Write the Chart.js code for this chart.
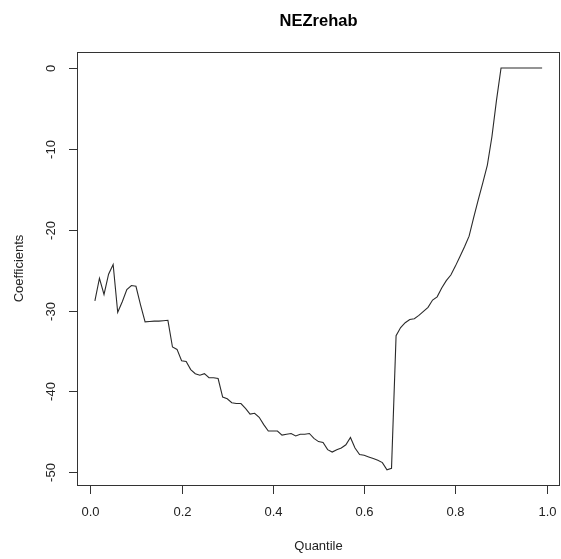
<!DOCTYPE html>
<html>
<head>
<meta charset="utf-8">
<script src="https://cdn.jsdelivr.net/npm/chart.js@4"></script>
<style>
  html, body { margin: 0; padding: 0; background: #fff; }
  #wrap { width: 561px; height: 559px; }
</style>
</head>
<body>
<div id="wrap"><canvas id="quantChart" width="561" height="559"></canvas></div>
<script>
// quantiles 0.01 ... 0.99
const quantiles = [
  0.01, 0.02, 0.03, 0.04, 0.05, 0.06, 0.07, 0.08, 0.09, 0.10,
  0.11, 0.12, 0.13, 0.14, 0.15, 0.16, 0.17, 0.18, 0.19, 0.20,
  0.21, 0.22, 0.23, 0.24, 0.25, 0.26, 0.27, 0.28, 0.29, 0.30,
  0.31, 0.32, 0.33, 0.34, 0.35, 0.36, 0.37, 0.38, 0.39, 0.40,
  0.41, 0.42, 0.43, 0.44, 0.45, 0.46, 0.47, 0.48, 0.49, 0.50,
  0.51, 0.52, 0.53, 0.54, 0.55, 0.56, 0.57, 0.58, 0.59, 0.60,
  0.61, 0.62, 0.63, 0.64, 0.65, 0.66, 0.67, 0.68, 0.69, 0.70,
  0.71, 0.72, 0.73, 0.74, 0.75, 0.76, 0.77, 0.78, 0.79, 0.80,
  0.81, 0.82, 0.83, 0.84, 0.85, 0.86, 0.87, 0.88, 0.89, 0.90,
  0.91, 0.92, 0.93, 0.94, 0.95, 0.96, 0.97, 0.98, 0.99
];

const coefficients = [
  -28.8, -26.0, -28.0, -25.5, -24.3, -30.2, -28.9, -27.4, -26.9, -27.0,
  -29.3, -31.4, -31.35, -31.3, -31.3, -31.25, -31.2, -34.5, -34.8, -36.2,
  -36.3, -37.3, -37.8, -38.0, -37.8, -38.3, -38.3, -38.4, -40.7, -40.9,
  -41.4, -41.5, -41.5, -42.1, -42.8, -42.7, -43.2, -44.1, -44.9, -44.9,
  -44.9, -45.4, -45.3, -45.2, -45.5, -45.3, -45.3, -45.2, -45.8, -46.2,
  -46.3, -47.2, -47.5, -47.2, -47.0, -46.6, -45.7, -47.0, -47.8, -47.9,
  -48.1, -48.3, -48.5, -48.8, -49.7, -49.5, -33.1, -32.1, -31.5, -31.1,
  -31.0, -30.6, -30.1, -29.6, -28.7, -28.3, -27.2, -26.3, -25.6, -24.5,
  -23.3, -22.1, -20.8, -18.5, -16.3, -14.2, -12.0, -8.5, -4.0, 0,
  0, 0, 0, 0, 0, 0, 0, 0, 0
];

const xTicks = [0, 0.2, 0.4, 0.6, 0.8, 1.0];
const xTickLabels = ['0.0', '0.2', '0.4', '0.6', '0.8', '1.0'];
const yTicks = [0, -10, -20, -30, -40, -50];
const yTickLabels = ['0', '-10', '-20', '-30', '-40', '-50'];

const chartTitle = 'NEZrehab';
const xTitle = 'Quantile';
const yTitle = 'Coefficients';

const FONT = '"Liberation Sans", Arial, Helvetica, sans-serif';

// R-style frame: box, outward ticks, rotated y labels
const rFrame = {
  id: 'rFrame',
  afterDraw(chart) {
    const ctx = chart.ctx;
    const a = chart.chartArea;
    const xs = chart.scales.x;
    const ys = chart.scales.y;
    const tick = 8.5;

    ctx.save();
    ctx.strokeStyle = '#333';
    ctx.lineWidth = 1;
    ctx.strokeRect(Math.round(a.left) + 0.5, Math.round(a.top) + 0.5,
      Math.round(a.right - a.left) - 1, Math.round(a.bottom - a.top));

    ctx.fillStyle = '#222';
    ctx.font = '13px ' + FONT;

    // x axis
    ctx.textAlign = 'center';
    ctx.textBaseline = 'middle';
    const yb = Math.round(a.bottom) + 0.5;
    ctx.beginPath();
    ctx.moveTo(xs.getPixelForValue(xTicks[0]), yb);
    ctx.lineTo(xs.getPixelForValue(xTicks[xTicks.length - 1]), yb);
    xTicks.forEach((v, i) => {
      const px = Math.round(xs.getPixelForValue(v)) + 0.5;
      ctx.moveTo(px, yb);
      ctx.lineTo(px, yb + tick);
      ctx.fillText(xTickLabels[i], px, 512);
    });
    ctx.stroke();

    // y axis
    const xl = Math.round(a.left) + 0.5;
    ctx.beginPath();
    ctx.moveTo(xl, ys.getPixelForValue(yTicks[0]));
    ctx.lineTo(xl, ys.getPixelForValue(yTicks[yTicks.length - 1]));
    yTicks.forEach((v, i) => {
      const py = Math.round(ys.getPixelForValue(v)) + 0.5;
      ctx.moveTo(xl, py);
      ctx.lineTo(xl - tick, py);
      ctx.save();
      ctx.translate(51, py);
      ctx.rotate(-Math.PI / 2);
      ctx.fillText(yTickLabels[i], 0, 0);
      ctx.restore();
    });
    ctx.stroke();

    // axis titles
    const cx = (a.left + a.right) / 2;
    const cy = (a.top + a.bottom) / 2;
    ctx.fillText(xTitle, cx, 546);
    ctx.save();
    ctx.translate(19, cy);
    ctx.rotate(-Math.PI / 2);
    ctx.fillText(yTitle, 0, 0);
    ctx.restore();

    // main title
    ctx.font = 'bold 16.5px ' + FONT;
    ctx.fillStyle = '#000';
    ctx.fillText(chartTitle, cx, 21);
    ctx.restore();
  }
};

document.addEventListener('DOMContentLoaded', () => {
  const ctx = document.getElementById('quantChart').getContext('2d');
  new Chart(ctx, {
    type: 'line',
    data: {
      datasets: [{
        label: chartTitle,
        data: quantiles.map((q, i) => ({ x: q, y: coefficients[i] })),
        borderColor: '#2a2a2a',
        borderWidth: 1.1,
        pointRadius: 0,
        fill: false,
        tension: 0
      }]
    },
    options: {
      responsive: false,
      animation: false,
      layout: {
        padding: { left: 77, right: 1, top: 52, bottom: 74 }
      },
      plugins: {
        legend: { display: false },
        tooltip: { enabled: false },
        title: { display: false }
      },
      scales: {
        x: { type: 'linear', display: false, min: -0.0292, max: 1.0292 },
        y: { type: 'linear', display: false, min: -51.57, max: 1.98 }
      }
    },
    plugins: [rFrame]
  });
});
</script>
</body>
</html>
